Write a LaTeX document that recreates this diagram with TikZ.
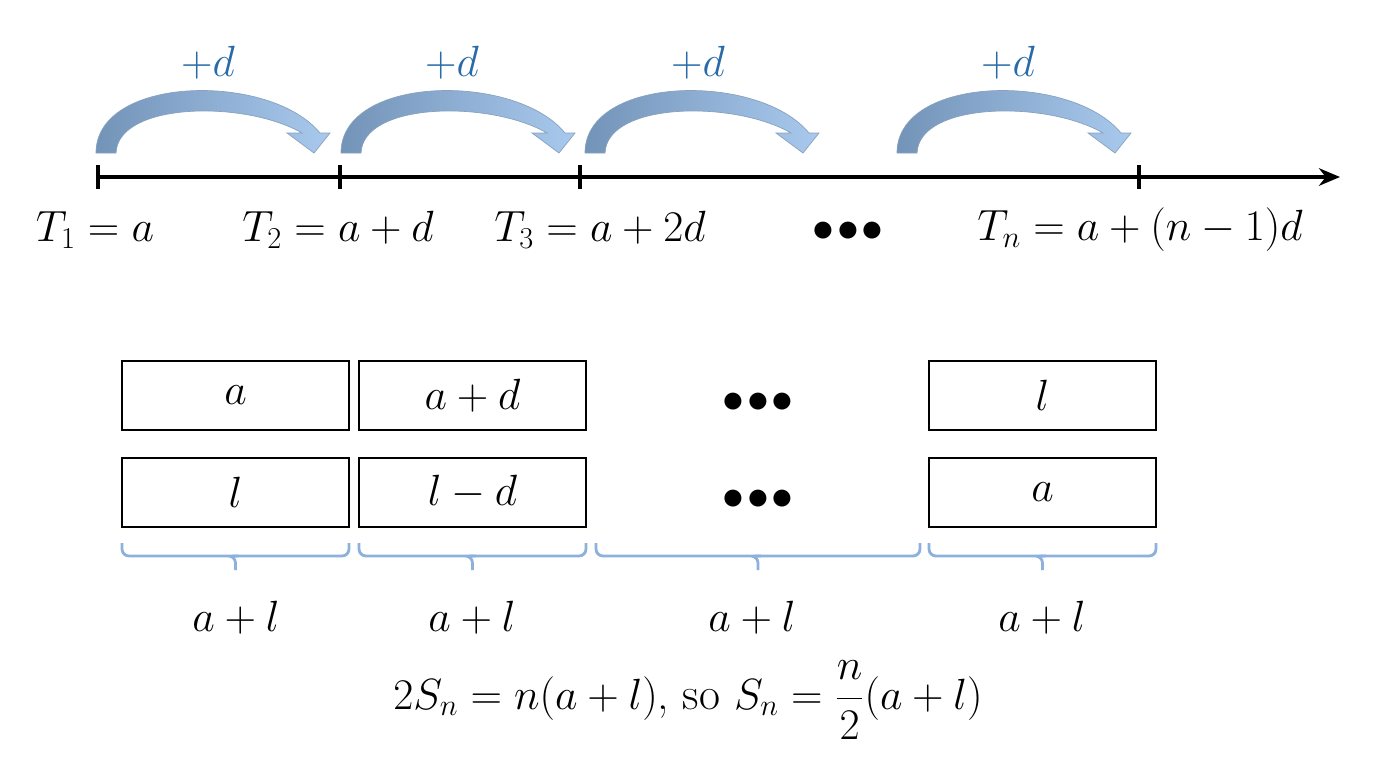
\documentclass[tikz,border=0pt]{standalone}
\usetikzlibrary{arrows.meta}
\definecolor{plusd}{rgb}{0.16,0.42,0.66}
\definecolor{brc}{rgb}{0.55,0.70,0.86}
\definecolor{arrd}{rgb}{0.45,0.58,0.72}
\definecolor{arrl}{rgb}{0.66,0.79,0.93}
\begin{document}
\begin{tikzpicture}[x=0.02cm,y=-0.02cm,
  txt/.style={font=\fontsize{26}{30}\selectfont},
  box/.style={draw,line width=1.6pt,minimum width=4.54cm,minimum height=1.38cm,inner sep=0pt,font=\fontsize{26}{30}\selectfont},
  pd/.style={text=plusd,font=\fontsize{26}{30}\selectfont},
  brace/.style={draw=brc,line width=1.6pt,rounded corners=4pt},
  tick/.style={line width=1.8pt},
  carr/.style={left color=arrd,right color=arrl,draw=arrl!80!black,line width=0.4pt}]
\useasboundingbox (0,0) rectangle (1376,768);
% curved arrows
\foreach \s in {0,245,489,801}{
  \begin{scope}[shift={(\s,0)}]
  \path[carr] (96,153) .. controls (96,75) and (270,72) .. (320,133) -- (330,133) -- (314,153) -- (287,133) -- (302,133)
     .. controls (245,100) and (118,102) .. (116,153) -- cycle;
  \end{scope}}
\node[pd] (p1) at (208,63) {$+d$};
\node[pd] (p2) at (452,63) {$+d$};
\node[pd] (p3) at (698,63) {$+d$};
\node[pd] (p4) at (1008,63) {$+d$};
% axis
\coordinate (a0) at (98,177);
\coordinate (a1) at (1340,177);
\draw[line width=1.8pt,-{Stealth[length=12pt,width=10pt]}] (a0) -- (a1);
\foreach \x in {98,340,580,1139}{\draw[tick] (\x,165) -- (\x,189);}
\node[txt] (t1) at (95,230) {$T_1=a$};
\node[txt] (t2) at (338,230) {$T_2=a+d$};
\node[txt] (t3) at (600,230) {$T_3=a+2d$};
\node[txt] (td) at (848,232) {$\bullet\!\bullet\!\bullet$};
\node[txt] (tn) at (1140,230) {$T_n=a+(n-1)d$};
% boxes
\node[box] (b11) at (235.5,395.5) {$a$};
\node[box] (b12) at (472.5,395.5) {$a+d$};
\node[txt] (b13) at (758,403) {$\bullet\!\bullet\!\bullet$};
\node[box] (b14) at (1042.5,395.5) {$l$};
\node[box] (b21) at (235.5,492.5) {$l$};
\node[box] (b22) at (472.5,492.5) {$l-d$};
\node[txt] (b23) at (758,500) {$\bullet\!\bullet\!\bullet$};
\node[box] (b24) at (1042.5,492.5) {$a$};
% braces
\foreach \a/\b in {122/349,359/586,596/920,929/1156}{
  \pgfmathsetmacro\m{(\a+\b)/2}
  \draw[brace] (\a,543) -- (\a,556) -- (\m-4,556) -- (\m,556) -- (\m,570);
  \draw[brace] (\b,543) -- (\b,556) -- (\m+4,556) -- (\m,556);
}
\node[txt] (s1) at (236,618) {$a+l$};
\node[txt] (s2) at (472,618) {$a+l$};
\node[txt] (s3) at (752,618) {$a+l$};
\node[txt] (s4) at (1042,618) {$a+l$};
\node[txt] (f) at (688,700) {$2S_n=n(a+l)$, so $S_n=\displaystyle\frac{n}{2}(a+l)$};
\end{tikzpicture}
\end{document}
